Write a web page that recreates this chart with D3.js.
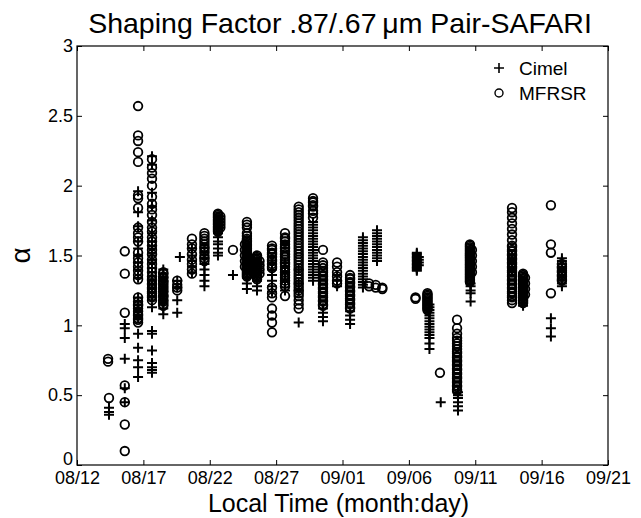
<!DOCTYPE html>
<html>
<head>
<meta charset="utf-8">
<script src="https://cdn.jsdelivr.net/npm/d3@7"></script>
<style>
  body { margin: 0; background: #fff; }
  text { font-family: "Liberation Sans", Arial, sans-serif; fill: #000; }
</style>
</head>
<body>
<div id="chart"></div>
<script>
// days after 08/12 and their labels
var dayTicks = [0, 5, 10, 15, 20, 25, 30, 35, 40];
var dayLabels = ["08/12", "08/17", "08/22", "08/27", "09/01", "09/06", "09/11", "09/16", "09/21"];
var alphaTicks = [0, 0.5, 1, 1.5, 2, 2.5, 3];

// [day after 08/12, [alpha values measured that day]]
var cimel = [
    [2.41, [0.41, 0.38, 0.36]],
    [3.6, [1.01, 0.98, 0.91, 0.76, 0.55, 0.45]],
    [4.6, [1.96, 1.81, 1.71, 1.60, 1.55, 1.50, 1.45, 1.40, 1.34, 1.20, 1.15, 1.10, 1.06, 0.94, 0.84, 0.75, 0.70, 0.63]],
    [5.65, [2.21, 2.15, 1.95, 1.85, 1.75, 1.66, 1.60, 1.57, 1.55, 1.52, 1.50, 1.47, 1.45, 1.41, 1.38, 1.33, 1.27, 1.20, 1.13, 0.96, 0.94, 0.82, 0.73, 0.70, 0.68, 0.66]],
    [6.5, [1.40, 1.37, 1.34, 1.32, 1.29, 1.26, 1.24, 1.21, 1.18, 1.16, 1.12, 1.08]],
    [7.55, [1.32, 1.27, 1.18, 1.09]],
    [7.75, [1.49]],
    [8.66, [1.55, 1.50, 1.46, 1.42, 1.38]],
    [9.6, [1.52, 1.48, 1.44, 1.40, 1.36, 1.32, 1.28]],
    [10.62, [1.66, 1.63, 1.60, 1.58, 1.55, 1.52, 1.50]],
    [11.75, [1.36]],
    [12.8, [1.34, 1.30, 1.26]],
    [13.56, [1.32, 1.28, 1.25]],
    [14.69, [1.45, 1.40, 1.36, 1.32, 1.28, 1.24]],
    [15.67, [1.45, 1.38, 1.32, 1.27, 1.25]],
    [16.7, [1.40, 1.30, 1.25, 1.02]],
    [17.78, [1.74, 1.72, 1.70, 1.68, 1.66, 1.64, 1.62, 1.60, 1.58, 1.56, 1.54, 1.52, 1.50, 1.48, 1.46, 1.44, 1.42, 1.40, 1.38, 1.36, 1.34, 1.32]],
    [18.53, [1.12, 1.09, 1.06, 1.03]],
    [19.59, [1.36, 1.32, 1.28]],
    [20.57, [1.10, 1.07, 1.04, 1.01]],
    [21.54, [1.63, 1.61, 1.59, 1.57, 1.55, 1.53, 1.51, 1.49, 1.47, 1.45, 1.43, 1.41, 1.39, 1.37, 1.35, 1.33, 1.31, 1.29, 1.27]],
    [22.6, [1.68, 1.66, 1.64, 1.62, 1.60, 1.58, 1.56, 1.54, 1.52, 1.50, 1.48, 1.46]],
    [25.6, [1.52, 1.51, 1.50, 1.49, 1.48, 1.47, 1.46, 1.45, 1.44, 1.43, 1.42, 1.41, 1.40, 1.39]],
    [25.75, [1.49, 1.47, 1.45, 1.43]],
    [26.55, [1.15, 1.13, 1.11, 1.09, 1.07, 1.05, 1.03, 1.01, 0.99, 0.97, 0.95, 0.93, 0.91, 0.87, 0.83]],
    [27.4, [0.45]],
    [28.7, [0.52, 0.50, 0.48, 0.45, 0.42, 0.39]],
    [29.65, [1.30, 1.28, 1.25, 1.23, 1.17]],
    [32.77, [1.50, 1.48, 1.46, 1.44, 1.42, 1.40, 1.38]],
    [33.6, [1.30, 1.28, 1.26, 1.24, 1.22, 1.20, 1.18, 1.16, 1.14]],
    [35.7, [1.05, 0.98, 0.92]],
    [36.53, [1.48, 1.46, 1.44, 1.42, 1.40, 1.38, 1.36, 1.34, 1.32, 1.30, 1.28]]
];

var mfrsr = [
    [2.34, [0.76, 0.74]],
    [2.41, [0.48]],
    [3.6, [1.53, 1.37, 1.09, 0.57, 0.45, 0.29, 0.10]],
    [4.6, [2.57, 2.36, 2.32, 2.24, 2.17, 1.93, 1.91, 1.84, 1.70, 1.66, 1.63, 1.60, 1.52, 1.48, 1.45, 1.42, 1.39, 1.36, 1.33, 1.20, 1.17, 1.15, 1.14, 1.12, 1.10, 1.08, 1.07, 1.05, 1.04, 1.02]],
    [5.65, [2.19, 2.13, 2.09, 2.05, 2.00, 1.92, 1.87, 1.83, 1.79, 1.74, 1.70, 1.67, 1.63, 1.60, 1.57, 1.54, 1.51, 1.47, 1.44, 1.41, 1.38, 1.35, 1.33, 1.32, 1.30, 1.29, 1.27, 1.26, 1.24, 1.23, 1.21, 1.20, 1.18]],
    [6.5, [1.38, 1.37, 1.35, 1.34, 1.32, 1.31, 1.30, 1.28, 1.27, 1.25, 1.24, 1.22, 1.21, 1.20, 1.18, 1.17, 1.15, 1.14]],
    [7.55, [1.32, 1.29, 1.27, 1.25]],
    [8.66, [1.62, 1.58, 1.55, 1.51, 1.47, 1.44, 1.40, 1.37]],
    [9.6, [1.66, 1.64, 1.62, 1.60, 1.58, 1.56, 1.55, 1.53, 1.50, 1.48, 1.46]],
    [10.62, [1.80, 1.79, 1.78, 1.77, 1.76, 1.75, 1.74, 1.73, 1.72, 1.71, 1.70, 1.69, 1.68, 1.67]],
    [10.8, [1.78, 1.76, 1.74, 1.72, 1.70]],
    [11.75, [1.54]],
    [12.8, [1.74, 1.72, 1.70, 1.66, 1.64, 1.62, 1.61, 1.60, 1.59, 1.58, 1.57, 1.56, 1.55, 1.54, 1.53, 1.52, 1.51, 1.50, 1.49, 1.48, 1.47, 1.46, 1.45, 1.44, 1.43, 1.42, 1.41, 1.40, 1.39, 1.38, 1.37, 1.36, 1.35]],
    [12.65, [1.58, 1.54, 1.50, 1.46, 1.42]],
    [13.56, [1.50, 1.49, 1.48, 1.47, 1.46, 1.45, 1.44, 1.43, 1.42, 1.41, 1.40, 1.39, 1.38, 1.37, 1.36, 1.35, 1.34, 1.33]],
    [13.75, [1.46, 1.43, 1.40, 1.37]],
    [14.69, [1.57, 1.55, 1.54, 1.52, 1.51, 1.49, 1.47, 1.46, 1.44, 1.42, 1.41, 1.27, 1.23, 1.20, 1.12, 1.07, 1.02, 0.95]],
    [15.67, [1.66, 1.63, 1.62, 1.60, 1.58, 1.56, 1.55, 1.53, 1.51, 1.49, 1.47, 1.45, 1.44, 1.42, 1.40, 1.38, 1.36, 1.34, 1.32, 1.30, 1.28, 1.21]],
    [16.7, [1.85, 1.83, 1.81, 1.79, 1.77, 1.75, 1.73, 1.71, 1.69, 1.67, 1.65, 1.63, 1.61, 1.59, 1.57, 1.55, 1.53, 1.51, 1.49, 1.47, 1.45, 1.43, 1.41, 1.39, 1.37, 1.35, 1.33, 1.31, 1.29, 1.27, 1.25, 1.23, 1.21, 1.18, 1.15, 1.12]],
    [17.78, [1.91, 1.89, 1.88, 1.86, 1.85, 1.82, 1.80, 1.77]],
    [18.53, [1.54, 1.45, 1.43, 1.41, 1.39, 1.38, 1.36, 1.35, 1.33, 1.32, 1.30, 1.29, 1.27, 1.26, 1.24, 1.23, 1.21, 1.20, 1.18, 1.17, 1.15, 1.14]],
    [19.59, [1.45, 1.42, 1.38, 1.35, 1.32, 1.30]],
    [20.57, [1.36, 1.34, 1.33, 1.31, 1.30, 1.28, 1.27, 1.25, 1.24, 1.22, 1.21, 1.19, 1.18, 1.16, 1.15, 1.13, 1.12]],
    [22.0, [1.30, 1.28]],
    [22.5, [1.29, 1.27]],
    [23.0, [1.27, 1.26]],
    [25.5, [1.20, 1.19]],
    [26.4, [1.23, 1.22, 1.21, 1.20, 1.19, 1.18, 1.17, 1.16, 1.15, 1.14, 1.13, 1.12, 1.11]],
    [27.34, [0.66]],
    [28.63, [1.04, 0.98, 0.94, 0.91, 0.89, 0.87, 0.85, 0.83, 0.81, 0.80, 0.78, 0.77, 0.75, 0.74, 0.72, 0.71, 0.69, 0.68, 0.66, 0.65, 0.63, 0.62, 0.60, 0.59, 0.57, 0.56, 0.54, 0.53]],
    [29.6, [1.58, 1.57, 1.56, 1.55, 1.54, 1.53, 1.52, 1.51, 1.50, 1.49, 1.48, 1.47, 1.46, 1.45, 1.44, 1.43, 1.42, 1.41, 1.40, 1.39, 1.38, 1.37, 1.36, 1.35, 1.34, 1.33, 1.32, 1.31]],
    [29.75, [1.54, 1.50, 1.46, 1.42, 1.38]],
    [32.77, [1.84, 1.81, 1.77, 1.73, 1.69, 1.65, 1.61, 1.57, 1.56, 1.54, 1.53, 1.51, 1.50, 1.48, 1.47, 1.45, 1.44, 1.42, 1.41, 1.39, 1.38, 1.36, 1.35, 1.33, 1.32, 1.30, 1.29, 1.27, 1.26, 1.24, 1.23, 1.21, 1.20, 1.18, 1.16]],
    [33.6, [1.37, 1.36, 1.35, 1.34, 1.33, 1.32, 1.31, 1.30, 1.29, 1.28, 1.27, 1.26, 1.25, 1.24, 1.23, 1.22, 1.21, 1.20, 1.19, 1.18, 1.17, 1.16]],
    [33.75, [1.34, 1.30, 1.26, 1.22]],
    [35.7, [1.86, 1.58, 1.52, 1.23]],
    [36.53, [1.44, 1.42, 1.41, 1.39, 1.38, 1.36, 1.35, 1.33, 1.32]]
];

function flatten(groups) {
    var out = [];
    groups.forEach(function (g) {
        g[1].forEach(function (a) { out.push({ day: g[0], alpha: a }); });
    });
    return out;
}

var margin = { top: 46, right: 33, bottom: 53, left: 77 };
var W = 641, H = 518;
var w = W - margin.left - margin.right;
var h = H - margin.top - margin.bottom;

var svg = d3.select("#chart").append("svg")
    .attr("width", W).attr("height", H)
    .style("background", "#fff");

var g = svg.append("g").attr("transform", "translate(" + margin.left + "," + margin.top + ")");

var x = d3.scaleLinear().domain([0, 40]).range([0, w]);
var y = d3.scaleLinear().domain([0, 3]).range([h, 0]);

// axes with inward ticks, matlab style
var xAxis = d3.axisBottom(x).tickValues(dayTicks)
    .tickFormat(function (d, i) { return dayLabels[i]; })
    .tickSizeInner(-5).tickSizeOuter(0).tickPadding(6);
var yAxis = d3.axisLeft(y).tickValues(alphaTicks)
    .tickFormat(function (d) { return d3.format("")(d); })
    .tickSizeInner(-5).tickSizeOuter(0).tickPadding(4);

g.append("g").attr("transform", "translate(0," + h + ")").call(xAxis);
var yg = g.append("g").call(yAxis);
g.append("g").call(d3.axisTop(x).tickValues(dayTicks).tickFormat("").tickSizeInner(-5).tickSizeOuter(0));
g.append("g").attr("transform", "translate(" + w + ",0)")
    .call(d3.axisRight(y).tickValues(alphaTicks).tickFormat("").tickSizeInner(-5).tickSizeOuter(0));

g.selectAll(".domain").remove();
g.selectAll(".tick line").attr("stroke", "#000").attr("stroke-width", 1);
g.selectAll(".tick text")
    .style("font-size", "18px")
    .style("font-family", "'Liberation Sans', Arial, sans-serif")
    .attr("fill", "#000");
// the zero label sits a little higher, above the date labels
yg.selectAll(".tick text").filter(function (d) { return d === 0; }).attr("dy", "-0.05em");

g.append("rect")
    .attr("width", w).attr("height", h)
    .attr("fill", "none").attr("stroke", "#000").attr("stroke-width", 1.2);

var plus = "M-5,0H5M0,-5V5";

g.selectAll("path.cimel").data(flatten(cimel)).enter().append("path")
    .attr("class", "cimel")
    .attr("d", plus)
    .attr("transform", function (d) { return "translate(" + x(d.day) + "," + y(d.alpha) + ")"; })
    .attr("stroke", "#000").attr("stroke-width", 2).attr("fill", "none");

g.selectAll("circle.mfrsr").data(flatten(mfrsr)).enter().append("circle")
    .attr("class", "mfrsr")
    .attr("cx", function (d) { return x(d.day); })
    .attr("cy", function (d) { return y(d.alpha); })
    .attr("r", 4.3)
    .attr("stroke", "#000").attr("stroke-width", 1.8).attr("fill", "none");

// legend
var leg = g.append("g").attr("transform", "translate(" + (w - 109) + ",22)");
leg.append("path").attr("d", plus).attr("stroke", "#000").attr("stroke-width", 1.6);
leg.append("text").attr("x", 20).attr("y", 7).style("font-size", "19px").text("Cimel");
leg.append("circle").attr("cx", 0).attr("cy", 25).attr("r", 4)
    .attr("fill", "none").attr("stroke", "#000").attr("stroke-width", 1.4);
leg.append("text").attr("x", 20).attr("y", 32).style("font-size", "19px").text("MFRSR");

// titles
svg.append("text").attr("x", 340).attr("y", 33)
    .attr("text-anchor", "middle").style("font-size", "28.5px")
    .text("Shaping Factor .87/.67\u2009\u03bcm Pair-SAFARI");

svg.append("text").attr("x", margin.left + w / 2 - 4).attr("y", 512)
    .attr("text-anchor", "middle").style("font-size", "25px")
    .text("Local Time (month:day)");

svg.append("text")
    .attr("transform", "translate(30," + (margin.top + h / 2) + ") rotate(-90)")
    .attr("text-anchor", "middle").style("font-size", "28px")
    .text("\u03b1");
</script>
</body>
</html>
